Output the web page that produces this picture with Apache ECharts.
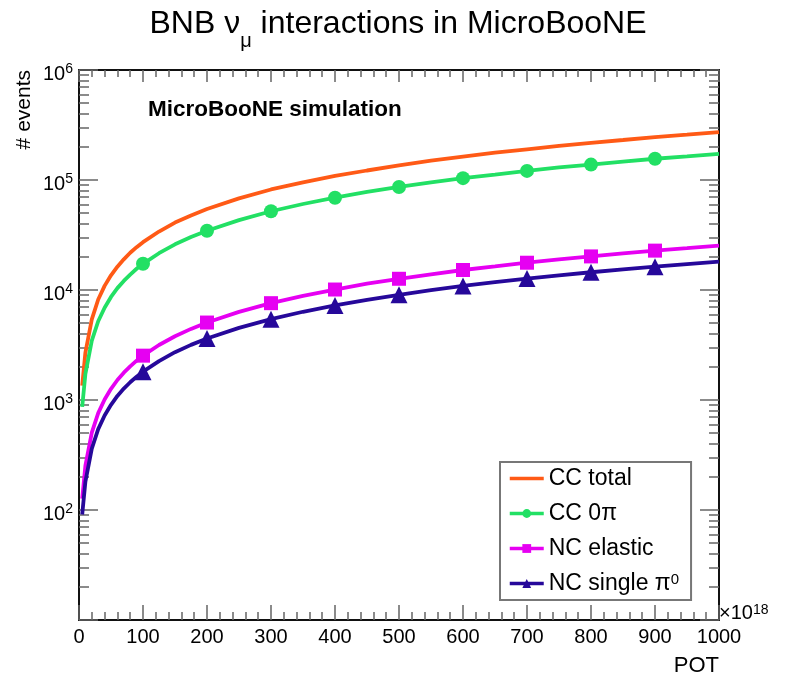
<!DOCTYPE html>
<html>
<head>
<meta charset="utf-8">
<script src="https://cdn.jsdelivr.net/npm/echarts@6/dist/echarts.min.js"></script>
<style>
  html, body { margin: 0; padding: 0; background: #fff; }
  #chart { width: 796px; height: 690px; }
</style>
</head>
<body>
<div id="chart"></div>
<script>
// POT values (x 10^18) at which the curves were read
const potValues = [5, 10, 20, 30, 40, 50, 60, 70, 80, 90, 100, 125, 150, 175, 200, 250, 300, 350, 400, 450,
    500, 550, 600, 650, 700, 750, 800, 850, 900, 950, 1000];
// points that carry a marker
const markerPot = [100, 200, 300, 400, 500, 600, 700, 800, 900];

const ccTotal = [1350, 2700, 5400, 8200, 10900, 13600, 16300, 19000, 21800, 24500, 27200, 34000, 41000, 47500,
    54500, 68000, 82000, 95000, 109000, 122000, 136000, 150000, 163000, 177000, 190000, 204000, 218000,
    231000, 245000, 258000, 272000];
const cc0pi = [865, 1730, 3460, 5200, 6900, 8650, 10400, 12100, 13800, 15600, 17300, 21600, 26000, 30300,
    34600, 43200, 52000, 60500, 69000, 78000, 86500, 95000, 104000, 112000, 121000, 130000, 138000,
    147000, 156000, 164000, 173000];
const ncElastic = [127, 253, 506, 760, 1010, 1265, 1520, 1770, 2020, 2280, 2530, 3160, 3800, 4430, 5060,
    6330, 7590, 8860, 10100, 11400, 12650, 13900, 15200, 16400, 17700, 19000, 20200, 21500, 22800,
    24000, 25300];
const ncSinglePi0 = [91, 181, 362, 543, 724, 905, 1090, 1270, 1450, 1630, 1810, 2260, 2720, 3170, 3620,
    4530, 5430, 6340, 7240, 8150, 9050, 9960, 10900, 11800, 12700, 13600, 14500, 15400, 16300, 17200,
    18100];

// minor tick positions on the log y axis
const yMinorTicks = [20, 30, 40, 50, 60, 70, 80, 90, 200, 300, 400, 500, 600, 700, 800, 900,
    2000, 3000, 4000, 5000, 6000, 7000, 8000, 9000, 20000, 30000, 40000, 50000, 60000, 70000, 80000, 90000,
    200000, 300000, 400000, 500000, 600000, 700000, 800000, 900000];

const FONT = 'Liberation Sans';
const TICK_COLOR = '#666';

function makeSeries(name, values, color, symbol, size) {
    return {
        name: name,
        type: 'line',
        xAxisIndex: 0,
        yAxisIndex: 0,
        symbol: symbol,
        symbolSize: size,
        showAllSymbol: true,
        data: potValues.map((x, i) => ({
            value: [x, values[i]],
            symbol: markerPot.includes(x) ? symbol : 'none'
        })),
        lineStyle: { color: color, width: 3.8 },
        itemStyle: { color: color },
        emphasis: { disabled: true },
        z: 3
    };
}

function xAxisCfg(pos, major, minor, labels) {
    return {
        type: 'value', position: pos, min: 0, max: 1000, interval: 100,
        axisLine: { show: true, onZero: false, lineStyle: { color: '#111', width: 2 } },
        axisTick: { show: true, inside: true, length: major, lineStyle: { color: TICK_COLOR, width: 1.5 } },
        minorTick: { show: true, splitNumber: 5, length: minor, lineStyle: { color: TICK_COLOR, width: 1.5 } },
        axisLabel: {
            show: labels, fontFamily: FONT, fontSize: 20, color: '#000', margin: 7,
            formatter: v => String(v)
        },
        splitLine: { show: false }
    };
}

function yAxisCfg(pos, labels) {
    return {
        type: 'log', logBase: 10, position: pos, min: 10, max: 1000000,
        axisLine: { show: true, lineStyle: { color: '#111', width: 2 } },
        axisTick: { show: true, inside: true, length: 19, lineStyle: { color: TICK_COLOR, width: 1.5 } },
        axisLabel: {
            show: labels, margin: 6, color: '#000', fontFamily: FONT, fontSize: 20,
            padding: [8, 0, 0, 0],
            formatter: v => v <= 10 ? '' : '10{sup|' + Math.round(Math.log10(v)) + '}',
            rich: {
                sup: { fontFamily: FONT, fontSize: 14, verticalAlign: 'top', lineHeight: 14, color: '#000' }
            },
            lineHeight: 24
        },
        splitLine: { show: false }
    };
}

function yMinorCfg(pos) {
    return {
        type: 'log', logBase: 10, position: pos, min: 10, max: 1000000,
        axisLine: { show: false },
        axisTick: { show: true, inside: true, length: 10, customValues: yMinorTicks, lineStyle: { color: TICK_COLOR, width: 1.5 } },
        axisLabel: { show: false },
        splitLine: { show: false }
    };
}

const chart = echarts.init(document.getElementById('chart'));
chart.setOption({
    animation: false,
    backgroundColor: '#fff',
    title: {
        text: 'BNB ν{sub|μ} interactions in MicroBooNE',
        left: 'center',
        top: 3,
        textStyle: {
            fontFamily: FONT, fontSize: 32, fontWeight: 'normal', color: '#000',
            rich: {
                sub: { fontFamily: FONT, fontSize: 20, lineHeight: 20, verticalAlign: 'top', padding: [23, 0, 0, 0], color: '#000' }
            }
        }
    },
    grid: { left: 79, right: 77, top: 70, bottom: 70, containLabel: false },
    xAxis: [
        xAxisCfg('bottom', 15, 8, true),
        xAxisCfg('top', 12, 7, false)
    ],
    yAxis: [
        yAxisCfg('left', true),
        yMinorCfg('left'),
        yAxisCfg('right', false),
        yMinorCfg('right')
    ],
    legend: {
        orient: 'vertical',
        left: 500,
        top: 462,
        itemWidth: 34,
        itemHeight: 11,
        itemGap: 12,
        padding: [5, 12, 5, 8],
        borderColor: '#777',
        borderWidth: 2,
        backgroundColor: '#fff',
        selectedMode: false,
        lineStyle: { width: 3.5 },
        data: [
            { name: 'CC total', itemStyle: { opacity: 0 } },
            { name: 'CC 0π' },
            { name: 'NC elastic' },
            { name: 'NC single π0' }
        ],
        formatter: n => n === 'NC single π0' ? 'NC single π{sup|0}' : n,
        textStyle: {
            fontFamily: FONT, fontSize: 23, color: '#000',
            rich: { sup: { fontFamily: FONT, fontSize: 15, verticalAlign: 'top', lineHeight: 15, color: '#000' } }
        }
    },
    graphic: [
        {
            type: 'text', left: 148, top: 98,
            style: { text: 'MicroBooNE simulation', fontFamily: FONT, fontSize: 22.5, fontWeight: 'bold', fill: '#000' }
        },
        {
            type: 'text', left: 719, top: 603,
            style: {
                text: '×10{sup|18}', fontFamily: FONT, fontSize: 20, fill: '#000',
                rich: { sup: { fontFamily: FONT, fontSize: 14, verticalAlign: 'top', lineHeight: 14, fill: '#000' } }
            }
        },
        {
            type: 'text', right: 77, top: 655,
            style: { text: 'POT', fontFamily: FONT, fontSize: 22, fill: '#000' }
        },
        {
            type: 'text', x: 14, y: 70, rotation: Math.PI / 2,
            style: { text: '# events', fontFamily: FONT, fontSize: 21, fill: '#000', align: 'right', verticalAlign: 'top' }
        }
    ],
    series: [
        makeSeries('CC total', ccTotal, '#ff5a16', 'none', 0),
        makeSeries('CC 0π', cc0pi, '#22e064', 'circle', 14),
        makeSeries('NC elastic', ncElastic, '#e600f2', 'rect', 14),
        makeSeries('NC single π0', ncSinglePi0, '#26089a', 'triangle', 17)
    ]
});
</script>
</body>
</html>
